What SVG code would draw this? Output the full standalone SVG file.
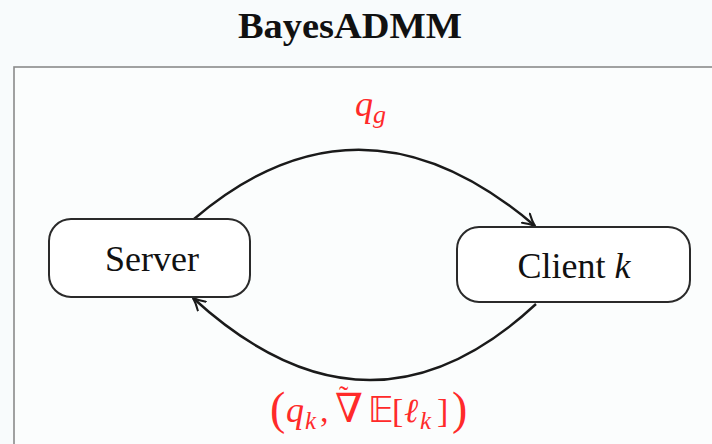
<svg xmlns="http://www.w3.org/2000/svg" width="712" height="444" viewBox="0 0 712 444">
  <defs>
    <marker id="arrow" viewBox="0 0 14 14" refX="13" refY="7" markerWidth="14" markerHeight="14" markerUnits="userSpaceOnUse" orient="auto">
      <path d="M1,1 Q7,5 13,7 Q7,9 1,13" fill="none" stroke="#1a1a1a" stroke-width="2" stroke-linecap="round"/>
    </marker>
    <style>
      .node rect { fill: #ffffff; stroke: #2a2a2a; stroke-width: 2; }
      .label { font-family: "Liberation Serif", "Times New Roman", serif; font-size: 36px; fill: #111; }
      .math { font-family: "Liberation Serif", "Times New Roman", serif; fill: #ff2a2a; }
      .edge { fill: none; stroke: #1a1a1a; stroke-width: 2.4; marker-end: url(#arrow); }
    </style>
  </defs>

  <rect width="712" height="444" fill="#f8fbfc"/>

  <!-- title -->
  <text x="350" y="38" text-anchor="middle" font-family="Liberation Serif, serif" font-weight="bold" font-size="36" fill="#111" textLength="224" lengthAdjust="spacingAndGlyphs">BayesADMM</text>

  <!-- frame -->
  <rect x="14" y="67" width="740" height="420" fill="#fbfdfd" stroke="#8a8a8a" stroke-width="1.6"/>

  <!-- connectors -->
  <g id="edges">
    <path class="edge" d="M194,219 Q361,77 535,226"/>
    <path class="edge" d="M536,304 Q369,459 193,298"/>
  </g>

  <!-- nodes -->
  <g id="server" class="node">
    <rect x="49" y="219" width="201" height="78" rx="22"/>
    <text class="label" x="152" y="271" text-anchor="middle">Server</text>
  </g>
  <g id="client" class="node">
    <rect x="457" y="227" width="233" height="75" rx="22"/>
    <text class="label" x="574" y="278" text-anchor="middle">Client <tspan font-style="italic">k</tspan></text>
  </g>

  <!-- edge labels -->
  <g id="label-top" class="math">
    <text x="355" y="116" font-size="36" font-style="italic">q<tspan font-size="26" dy="7">g</tspan></text>
  </g>
  <g id="label-bottom" class="math">
    <text y="424" font-size="34"><tspan x="270" font-size="46">(</tspan><tspan x="286" y="422" font-size="36" font-style="italic">q</tspan><tspan x="305" dy="7" font-size="25" font-style="italic">k</tspan><tspan x="320" y="422">,</tspan><tspan x="335" font-size="40" font-family="DejaVu Serif, serif">∇</tspan><tspan x="339" y="405" font-size="28">˜</tspan><tspan x="368" y="422" font-size="35" font-family="DejaVu Sans, sans-serif">𝔼</tspan><tspan x="392">[</tspan><tspan x="404" font-style="italic">ℓ</tspan><tspan x="420" dy="7" font-size="25" font-style="italic">k</tspan><tspan x="437" y="422">]</tspan><tspan x="452" y="424" font-size="46">)</tspan></text>
  </g>
</svg>
